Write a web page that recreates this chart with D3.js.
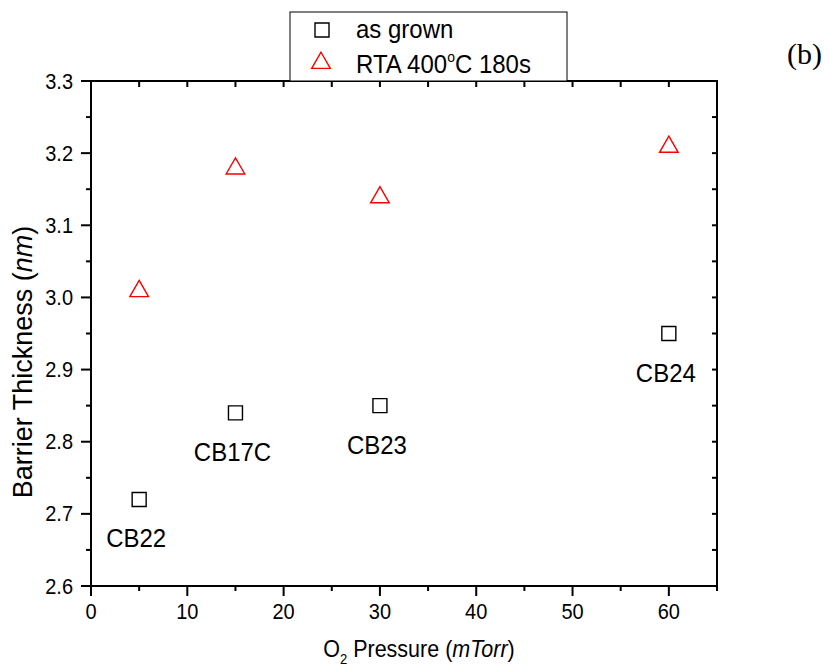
<!DOCTYPE html>
<html>
<head>
<meta charset="utf-8">
<script src="https://cdn.jsdelivr.net/npm/d3@7"></script>
<style>
  body { margin: 0; background: #fff; }
  text { font-family: "Liberation Sans", Arial, sans-serif; fill: #000; }
</style>
</head>
<body>
<script>
// data
var pressure = [5, 15, 30, 60];
var asGrown = [2.72, 2.84, 2.85, 2.95];
var rta = [3.01, 3.18, 3.14, 3.21];
var sampleNames = ['CB22', 'CB17C', 'CB23', 'CB24'];
var seriesNames = ['as grown', 'RTA 400', 'C 180s'];
var xTicks = [0, 10, 20, 30, 40, 50, 60];
var yTicks = [2.6, 2.7, 2.8, 2.9, 3.0, 3.1, 3.2, 3.3];

var width = 829;
var height = 668;
var margin = {top: 81, right: 112, bottom: 82, left: 91};
var stretch = 1.1; // the original's lettering is a bit taller than wide

var x = d3.scaleLinear().domain([0, 65]).range([margin.left, width - margin.right]);
var y = d3.scaleLinear().domain([2.6, 3.3]).range([height - margin.bottom, margin.top]);

var svg = d3.select('body')
            .append('svg')
            .attr('width', width)
            .attr('height', height);

var x0 = x.range()[0], x1 = x.range()[1];
var y0 = y.range()[0], y1 = y.range()[1];

function place(px, py) {
  return 'translate(' + px + ',' + py + ') scale(1,' + stretch + ')';
}

// minor + major ticks, drawn by hand so each side gets its own length
var xMinor = d3.range(0, 65.01, 5);
var yMinor = d3.range(2.6, 3.301, 0.05);

function isMajorX(v) { return Math.abs(v % 10) < 1e-6; }
function isMajorY(v) { return Math.abs(Math.round(v * 10) - v * 10) < 1e-6; }

var ticks = svg.append('g').attr('class', 'ticks')
  .style('stroke', '#000').style('stroke-width', 2);

// bottom (outward)
ticks.selectAll('line.xb').data(xMinor).enter().append('line')
  .attr('x1', d => x(d)).attr('x2', d => x(d))
  .attr('y1', y0).attr('y2', d => y0 + (isMajorX(d) ? 10 : 5));
// top (inward)
ticks.selectAll('line.xt').data(xMinor).enter().append('line')
  .attr('x1', d => x(d)).attr('x2', d => x(d))
  .attr('y1', y1).attr('y2', y1 + 6);
// left (outward)
ticks.selectAll('line.yl').data(yMinor).enter().append('line')
  .attr('y1', d => y(d)).attr('y2', d => y(d))
  .attr('x1', x0).attr('x2', d => x0 - (isMajorY(d) ? 10 : 5));
// right (inward)
ticks.selectAll('line.yr').data(yMinor).enter().append('line')
  .attr('y1', d => y(d)).attr('y2', d => y(d))
  .attr('x1', x1).attr('x2', x1 - 5);

// frame
svg.append('rect')
  .attr('x', x0).attr('y', y1)
  .attr('width', x1 - x0).attr('height', y0 - y1)
  .style('fill', 'none').style('stroke', '#000').style('stroke-width', 2);

// tick labels
svg.selectAll('text.xtl').data(xTicks).enter().append('text')
  .attr('class', 'xtl')
  .attr('transform', d => place(x(d), y0 + 33))
  .attr('text-anchor', 'middle')
  .style('font-size', '20px')
  .text(d => d);

svg.selectAll('text.ytl').data(yTicks).enter().append('text')
  .attr('class', 'ytl')
  .attr('transform', d => place(x0 - 18, y(d) + 7.5))
  .attr('text-anchor', 'end')
  .style('font-size', '20px')
  .text(d => d3.format('.1f')(d));

// axis titles
var xt = svg.append('text')
  .attr('transform', place(419, 657))
  .attr('text-anchor', 'middle')
  .style('font-size', '21.5px');
xt.append('tspan').text('O');
xt.append('tspan').attr('dy', 6).style('font-size', '13px').text('2');
xt.append('tspan').attr('dy', -6).text(' Pressure (');
xt.append('tspan').style('font-style', 'italic').text('mTorr');
xt.append('tspan').text(')');

var yt = svg.append('text')
  .attr('transform', 'translate(32,362) rotate(-90)')
  .attr('text-anchor', 'middle')
  .style('font-size', '27px');
yt.append('tspan').text('Barrier Thickness (');
yt.append('tspan').style('font-style', 'italic').text('nm');
yt.append('tspan').text(')');

// markers
var sq = d3.symbol().type(d3.symbolSquare).size(196);
var tri = d3.symbol().type(d3.symbolTriangle).size(150);

svg.selectAll('path.grown').data(pressure).enter().append('path')
  .attr('class', 'grown')
  .attr('d', sq)
  .attr('transform', (d, i) => 'translate(' + x(d) + ',' + y(asGrown[i]) + ')')
  .style('fill', 'none').style('stroke', '#000').style('stroke-width', 1.4);

svg.selectAll('path.rta').data(pressure).enter().append('path')
  .attr('class', 'rta')
  .attr('d', tri)
  .attr('transform', (d, i) => 'translate(' + x(d) + ',' + (y(rta[i]) + 1) + ')')
  .style('fill', 'none').style('stroke', '#ff0000').style('stroke-width', 1.4);

// sample labels below the as-grown points
svg.selectAll('text.sample').data(pressure).enter().append('text')
  .attr('class', 'sample')
  .attr('transform', (d, i) => place(x(d) - 3, y(asGrown[i]) + 48))
  .attr('text-anchor', 'middle')
  .style('font-size', '24px')
  .text((d, i) => sampleNames[i]);

// legend
var lg = svg.append('g').attr('class', 'legend');
lg.append('rect')
  .attr('x', 290).attr('y', 12).attr('width', 277).attr('height', y1 - 12)
  .style('fill', '#fff').style('stroke', '#000').style('stroke-width', 1);
lg.append('path').attr('d', sq)
  .attr('transform', 'translate(322,30)')
  .style('fill', 'none').style('stroke', '#000').style('stroke-width', 1.4);
lg.append('path').attr('d', tri)
  .attr('transform', 'translate(321,63)')
  .style('fill', 'none').style('stroke', '#ff0000').style('stroke-width', 1.4);
lg.append('text').attr('transform', place(356, 38))
  .style('font-size', '24px').text(seriesNames[0]);
var l2 = lg.append('text').attr('transform', place(356, 73)).style('font-size', '24px');
l2.append('tspan').text(seriesNames[1]);
l2.append('tspan').attr('dy', -10).style('font-size', '14px').text('o');
l2.append('tspan').attr('dy', 10).text(seriesNames[2]);

// panel tag
svg.append('text')
  .attr('x', 787).attr('y', 64)
  .style('font-family', '"Liberation Serif", "Times New Roman", serif')
  .style('font-size', '30px')
  .text('(b)');
</script>
</body>
</html>
